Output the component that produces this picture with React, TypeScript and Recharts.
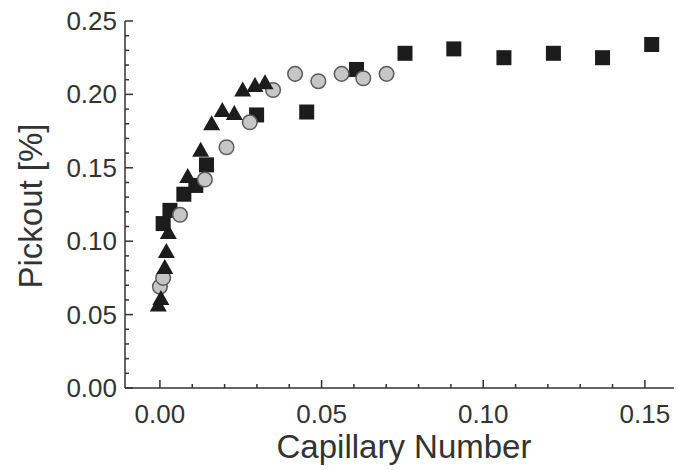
import React from 'react';
import { ScatterChart, Scatter, XAxis, YAxis, Label } from 'recharts';

// Capillary number (x) vs pickout (y), three measurement series
const SQUARE_X = [0.001, 0.0031, 0.0074, 0.0111, 0.0144, 0.0299, 0.0454, 0.0608, 0.0758, 0.0909, 0.1064, 0.1217, 0.1369, 0.1521];
const SQUARE_Y = [0.112, 0.121, 0.132, 0.138, 0.152, 0.186, 0.188, 0.217, 0.228, 0.231, 0.225, 0.228, 0.225, 0.234];

const CIRCLE_X = [0.0, 0.001, 0.0062, 0.0139, 0.0206, 0.0278, 0.035, 0.0418, 0.049, 0.0562, 0.0629, 0.0701];
const CIRCLE_Y = [0.069, 0.075, 0.118, 0.142, 0.164, 0.181, 0.203, 0.214, 0.209, 0.214, 0.211, 0.214];

const TRIANGLE_X = [-0.0005, 0.0003, 0.0015, 0.002, 0.0026, 0.0086, 0.0126, 0.016, 0.0193, 0.023, 0.0256, 0.0294, 0.0325];
const TRIANGLE_Y = [0.0565, 0.061, 0.082, 0.093, 0.106, 0.144, 0.162, 0.18, 0.189, 0.187, 0.203, 0.206, 0.208];

// tick positions (majors every 0.05, minors every 0.01)
const X_TICKS = [0, 0.01, 0.02, 0.03, 0.04, 0.05, 0.06, 0.07, 0.08, 0.09, 0.1, 0.11, 0.12, 0.13, 0.14, 0.15];
const Y_TICKS = [0, 0.01, 0.02, 0.03, 0.04, 0.05, 0.06, 0.07, 0.08, 0.09, 0.1, 0.11, 0.12, 0.13, 0.14, 0.15, 0.16, 0.17, 0.18, 0.19, 0.2, 0.21, 0.22, 0.23, 0.24, 0.25];

const X_DOMAIN = [-0.0108, 0.159];
const Y_DOMAIN = [0, 0.25];

const zip = (xs: number[], ys: number[]) => xs.map((x, i) => ({ x, y: ys[i] }));
const squares = zip(SQUARE_X, SQUARE_Y);
const circles = zip(CIRCLE_X, CIRCLE_Y);
const triangles = zip(TRIANGLE_X, TRIANGLE_Y);

const INK = '#333';
const FONT = '"Liberation Sans", Arial, Helvetica, sans-serif';
const isMajor = (v: number) => Math.round(v * 100) % 5 === 0;
const tickLen = (v: number) => (isMajor(v) ? 8 : 4);

const BottomTick = (p: any) => {
  const v = p.payload.value;
  return (
    <g>
      <line x1={p.x} y1={p.y} x2={p.x} y2={p.y - tickLen(v)} stroke={INK} strokeWidth={1.5} />
      {isMajor(v) && (
        <text x={p.x} y={p.y + 35} textAnchor="middle" fontSize={26} fontFamily={FONT} fill={INK}>
          {v.toFixed(2)}
        </text>
      )}
    </g>
  );
};

const TopTick = (p: any) => (
  <line x1={p.x} y1={p.y} x2={p.x} y2={p.y + tickLen(p.payload.value)} stroke={INK} strokeWidth={1.5} />
);

const LeftTick = (p: any) => {
  const v = p.payload.value;
  return (
    <g>
      <line x1={p.x} y1={p.y} x2={p.x + tickLen(v)} y2={p.y} stroke={INK} strokeWidth={1.5} />
      {isMajor(v) && (
        <text x={p.x - 8} y={p.y + 9} textAnchor="end" fontSize={26} fontFamily={FONT} fill={INK}>
          {v.toFixed(2)}
        </text>
      )}
    </g>
  );
};

const RightTick = (p: any) => (
  <line x1={p.x} y1={p.y} x2={p.x - tickLen(p.payload.value)} y2={p.y} stroke={INK} strokeWidth={1.5} />
);

const SquareMark = (p: any) => <rect x={p.cx - 7.5} y={p.cy - 7.5} width={15} height={15} fill="#1c1c1c" />;
const CircleMark = (p: any) => <circle cx={p.cx} cy={p.cy} r={7.3} fill="#c6c6c6" stroke="#5a5a5a" strokeWidth={1.5} />;
const TriangleMark = (p: any) => (
  <polygon points={`${p.cx},${p.cy - 8.5} ${p.cx + 8.5},${p.cy + 6.5} ${p.cx - 8.5},${p.cy + 6.5}`} fill="#1c1c1c" />
);

export default function App() {
  const axisLine = { stroke: INK, strokeWidth: 1.5 };
  return (
    <div style={{ position: 'absolute', left: 0, top: 0, width: 676, height: 470, background: '#fff' }}>
      <ScatterChart width={676} height={470} margin={{ top: 21, right: 2, bottom: 0, left: 0 }}>
        <XAxis
          xAxisId="bottom" orientation="bottom" type="number" dataKey="x"
          domain={X_DOMAIN} allowDataOverflow ticks={X_TICKS} interval={0}
          height={82} tickSize={0} tickMargin={0} axisLine={axisLine} tickLine={false} tick={BottomTick}
        >
          <Label
            content={() => (
              <text x={404} y={458} textAnchor="middle" fontSize={33} fontFamily={FONT} fill={INK}>
                Capillary Number
              </text>
            )}
          />
        </XAxis>
        <XAxis
          xAxisId="top" orientation="top" type="number" domain={X_DOMAIN} allowDataOverflow
          ticks={X_TICKS} interval={0} height={0} tickSize={0} tickMargin={0}
          axisLine={axisLine} tickLine={false} tick={TopTick}
        />
        <YAxis
          yAxisId="left" orientation="left" type="number" dataKey="y"
          domain={Y_DOMAIN} allowDataOverflow ticks={Y_TICKS} interval={0}
          width={125} tickSize={0} tickMargin={0} axisLine={axisLine} tickLine={false} tick={LeftTick}
        >
          <Label
            content={() => (
              <text
                x={42} y={206} textAnchor="middle" fontSize={33} fontFamily={FONT} fill={INK}
                transform="rotate(-90, 42, 206)"
              >
                Pickout [%]
              </text>
            )}
          />
        </YAxis>
        <YAxis
          yAxisId="right" orientation="right" type="number" domain={Y_DOMAIN} allowDataOverflow
          ticks={Y_TICKS} interval={0} width={0} tickSize={0} tickMargin={0}
          axisLine={axisLine} tickLine={false} tick={RightTick}
        />
        <Scatter data={squares} xAxisId="bottom" yAxisId="left" shape={SquareMark} isAnimationActive={false} />
        <Scatter data={circles} xAxisId="bottom" yAxisId="left" shape={CircleMark} isAnimationActive={false} />
        <Scatter data={triangles} xAxisId="bottom" yAxisId="left" shape={TriangleMark} isAnimationActive={false} />
      </ScatterChart>
    </div>
  );
}
